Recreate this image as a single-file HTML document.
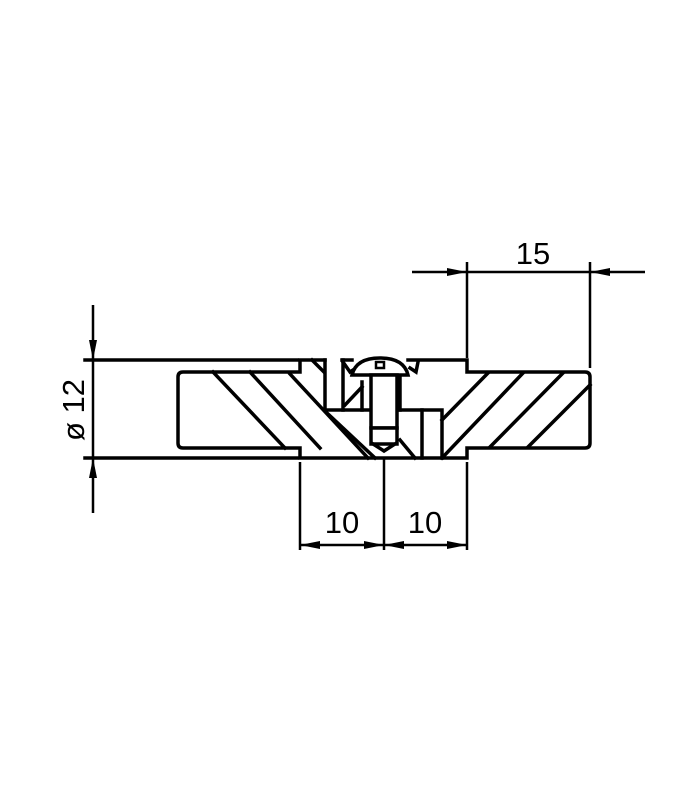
<!DOCTYPE html>
<html><head><style>body{margin:0;background:#fff}svg{display:block}</style></head><body>
<svg width="700" height="800" viewBox="0 0 700 800" xmlns="http://www.w3.org/2000/svg">
<g fill="none" stroke="#000" stroke-width="3.5" stroke-linejoin="miter" stroke-linecap="square">
<!-- outer outline -->
<path d="M325,360 L300,360 L300,372 L183,372 Q178,372 178,377 L178,443 Q178,448 183,448 L300,448 L300,458 L467,458 L467,448 L585,448 Q590,448 590,443 L590,377 Q590,372 585,372 L467,372 L467,360 L408,360"/>
<line x1="342" y1="360" x2="352" y2="360"/>
<line x1="85" y1="360" x2="297" y2="360"/>
<line x1="85" y1="458" x2="297" y2="458"/>
<!-- inner center -->
<line x1="325" y1="360" x2="325" y2="410"/>
<polyline points="325,410 442,410 442,458"/>
<line x1="422" y1="410" x2="422" y2="458"/>
<line x1="400" y1="375" x2="400" y2="410"/>
<line x1="312" y1="360" x2="324" y2="372"/>
<!-- left bracket -->
<line x1="343" y1="360" x2="343" y2="410"/>
<line x1="362" y1="382" x2="362" y2="410"/>
<line x1="345" y1="405" x2="362" y2="387"/>
<polyline points="343,362 350,372 356,368"/>
<polyline points="410,368 416,372 418,362"/>
<!-- hatching left -->
<line x1="213" y1="372" x2="285" y2="448"/>
<line x1="250" y1="372" x2="320" y2="448"/>
<line x1="290" y1="374" x2="368" y2="458"/>
<line x1="327" y1="413" x2="375" y2="458"/>
<line x1="400" y1="440" x2="415" y2="458"/>
<!-- hatching right -->
<line x1="442" y1="420" x2="488" y2="373"/>
<line x1="442" y1="458" x2="523" y2="373"/>
<line x1="490" y1="447" x2="563" y2="373"/>
<line x1="528" y1="447" x2="590" y2="385"/>
<!-- screw -->
<path d="M352,375 Q356,358 380,358 Q404,358 408,375 Z" fill="#fff"/>
<rect x="371" y="375" width="26" height="53" fill="#fff"/>
<rect x="371" y="428" width="26" height="16" fill="#fff"/>
<polyline points="373,444 384,451 395,444"/>
<rect x="376" y="362" width="8" height="6" stroke-width="2.5"/>
</g>
<!-- dimension lines -->
<g stroke="#000" stroke-width="2.5" fill="none">
<line x1="93" y1="305" x2="93" y2="513"/>
<line x1="467" y1="262" x2="467" y2="358"/>
<line x1="590" y1="262" x2="590" y2="368"/>
<line x1="412" y1="272" x2="645" y2="272"/>
<line x1="300" y1="462" x2="300" y2="550"/>
<line x1="384" y1="458" x2="384" y2="550"/>
<line x1="467" y1="462" x2="467" y2="550"/>
<line x1="300" y1="545" x2="467" y2="545"/>
</g>
<g fill="#000">
<polygon points="93,360 89,340 97,340"/>
<polygon points="93,458 89,478 97,478"/>
<polygon points="467,272 447,268 447,276"/>
<polygon points="590,272 610,268 610,276"/>
<polygon points="300,545 320,541 320,549"/>
<polygon points="384,545 364,541 364,549"/>
<polygon points="384,545 404,541 404,549"/>
<polygon points="467,545 447,541 447,549"/>
</g>
<g font-family="Liberation Sans, sans-serif" font-size="31" fill="#000">
<text x="533" y="264" text-anchor="middle">15</text>
<text x="342" y="533" text-anchor="middle">10</text>
<text x="425" y="533" text-anchor="middle">10</text>
<text transform="translate(84,410) rotate(-90)" text-anchor="middle">ø 12</text>
</g>
</svg>
</body></html>
